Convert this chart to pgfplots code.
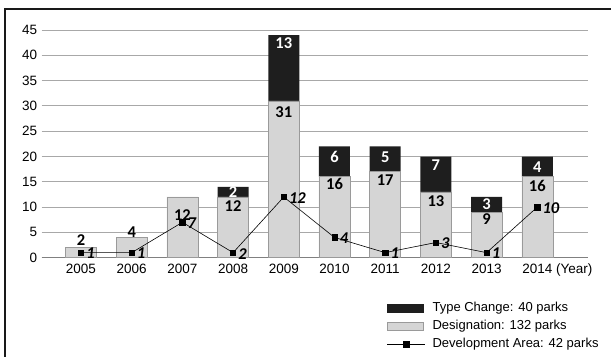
\documentclass[border=0pt]{standalone}
\usepackage{fontspec}
\setmainfont{Liberation Sans}
\newfontfamily\calib{Carlito}
\usepackage{pgfplots}
\usepackage{pgfplotstable}
\pgfplotsset{compat=1.18}
\definecolor{tcblack}{HTML}{1E1E1E}
\definecolor{desgray}{HTML}{D5D5D5}
\definecolor{desedge}{HTML}{9A9A9A}
\definecolor{gridc}{HTML}{A8A8A8}
\definecolor{axisc}{HTML}{808080}

% x: category index (0 = 2005); des: Designation; tc: Type Change (labels tclab);
% dev: Development Area plotted value, devlab its printed label; desdy/tcdy: label offsets
\pgfplotstableread{
x des desdy tc tclab tcdy dev devlab
0 2 13 0 {} 0 1 1
1 4 11.2 0 {} 0 1 1
2 12 -12.6 0 {} 0 7 7
3 12 -3.7 2 2 0 1 2
4 31 -5.3 13 13 -2.6 12 12
5 16 -1 6 6 -5 4 4
6 17 -3 5 5 -5 1 1
7 13 -4 7 7 -3.5 3 3
8 9 -1 3 3 -1.4 1 1
9 16 -3.3 4 4 -5 10 10
}\datatable

\begin{document}
\begin{tikzpicture}
\useasboundingbox (-41.7bp,-99.3bp) rectangle (569.3bp,257.7bp);
\draw[line width=2bp, black!90] (-36.7bp,-110bp) -- (-36.7bp,248.7bp) -- (580bp,248.7bp);
\begin{axis}[
  scale only axis, width=546.3bp, height=227.7bp,
  at={(0,0)}, anchor=south west,
  xmin=-0.775, xmax=10, ymin=0, ymax=45,
  ybar stacked, bar width=31bp,
  xtick={0,...,9},
  xticklabels={2005,2006,2007,2008,2009,2010,2011,2012,2013,{2014\rlap{\ (Year)}}},
  ytick={0,5,...,45},
  ymajorgrids, grid style={gridc, line width=1bp},
  axis x line*=bottom, axis y line*=left,
  y axis line style={draw=none},
  x axis line style={axisc, line width=1.2bp},
  major tick length=0pt,
  /pgf/number format/assume math mode=true,
  xticklabel style={font=\fontsize{13.5bp}{16bp}\selectfont, anchor=north, inner sep=0pt, yshift=-6bp, text height=9.7bp},
  yticklabel style={font=\fontsize{13.5bp}{16bp}\selectfont, anchor=east, inner sep=0pt, xshift=-4.4bp},
  clip=false,
]
\addplot[fill=desgray, draw=desedge, line width=0.6bp] table[x=x, y=des] \datatable;
\addplot[fill=tcblack, draw=none] table[x=x, y=tc] \datatable;
\end{axis}
\begin{axis}[
  scale only axis, width=546.3bp, height=227.7bp,
  at={(0,0)}, anchor=south west,
  xmin=-0.775, xmax=10, ymin=0, ymax=45,
  hide axis, clip=false,
  legend cell align=left,
  legend style={at={(axis description cs:0.632,-0.1937)}, anchor=north west,
    draw=none, fill=none, inner sep=0pt, outer sep=0pt, row sep=5bp,
    font=\fontsize{13bp}{15bp}\selectfont,
    nodes={inner sep=0pt, text height=10bp, text depth=3bp},
    /tikz/every odd column/.append style={column sep=7bp}},
]
\addlegendimage{legend image code/.code={\fill[tcblack] (0bp,-4bp) rectangle (36bp,4bp);}}
\addlegendentry{Type Change: 40 parks}
\addlegendimage{legend image code/.code={\filldraw[fill=desgray, draw=desedge, line width=0.6bp] (0bp,-4bp) rectangle (36bp,4bp);}}
\addlegendentry{Designation: 132 parks}
\addlegendimage{legend image code/.code={\draw[black, line width=0.6bp] (0bp,0bp) -- (38bp,0bp); \fill[black] (16.3bp,-2.7bp) rectangle (21.7bp,2.7bp);}}
\addlegendentry{Development Area: 42 parks}
% Designation labels
\addplot[forget plot, only marks, mark=none,
  nodes near coords, point meta=explicit symbolic,
  visualization depends on={\thisrow{desdy} \as \ldyA},
  every node near coord/.append style={anchor=north, yshift=\ldyA bp, inner sep=0pt,
    font=\calib\bfseries\fontsize{16.5bp}{18bp}\selectfont, text=black}]
  table[x=x, y=des, meta=des] \datatable;
% Type Change labels
\addplot[forget plot, only marks, mark=none,
  nodes near coords, point meta=explicit symbolic,
  visualization depends on={\thisrow{tcdy} \as \ldyB},
  every node near coord/.append style={anchor=north, yshift=\ldyB bp, inner sep=0pt,
    font=\calib\bfseries\fontsize{16.5bp}{18bp}\selectfont, text=white}]
  table[x=x, y expr=\thisrow{des}+\thisrow{tc}, meta=tclab] \datatable;
% Development Area
\addplot[forget plot, black, line width=0.6bp, mark=square*, mark size=2.7bp, mark options={solid, fill=black},
  nodes near coords, point meta=explicit symbolic,
  every node near coord/.append style={anchor=west, xshift=5bp, yshift=-1bp, inner sep=0pt,
    font=\calib\bfseries\itshape\fontsize{16.5bp}{18bp}\selectfont, text=black}]
  table[x=x, y=dev, meta=devlab] \datatable;
\end{axis}
\end{tikzpicture}
\end{document}
